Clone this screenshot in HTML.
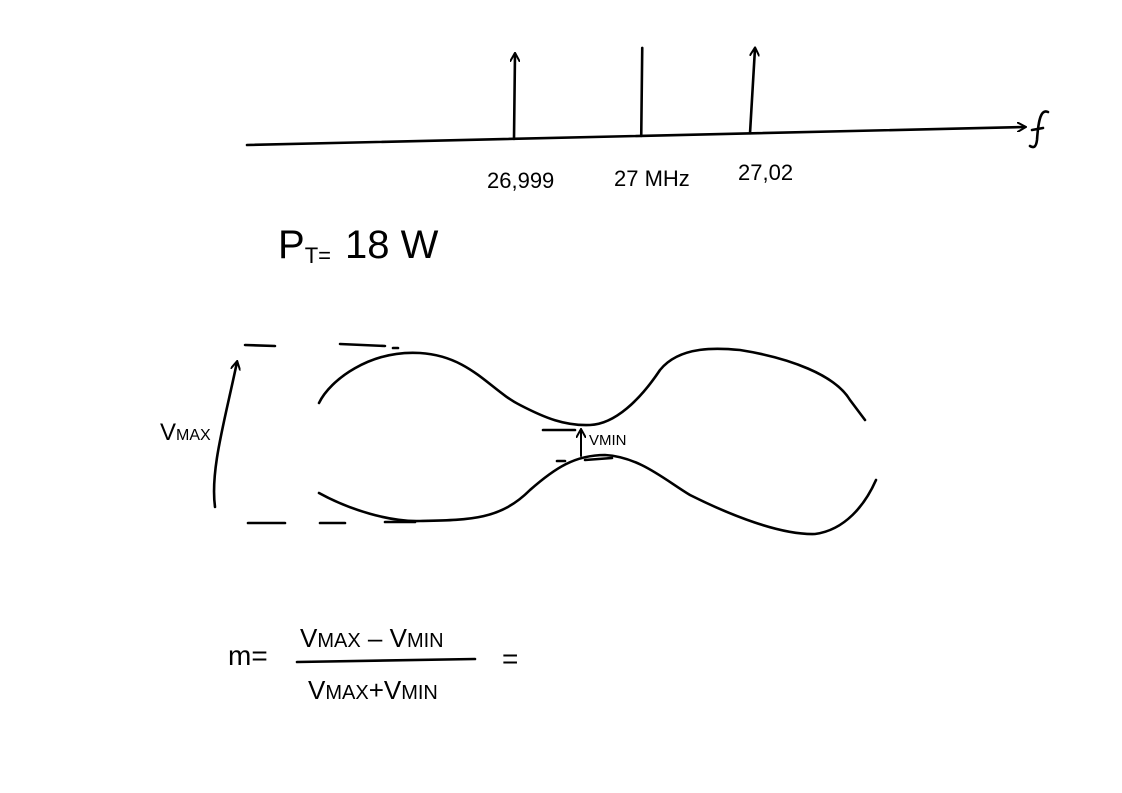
<!DOCTYPE html>
<html><head><meta charset="utf-8"><style>
html,body{margin:0;padding:0;background:#fff;}
svg{display:block;}
text{font-family:"Liberation Sans",sans-serif;fill:#000;}
</style></head>
<body>
<svg id="s" width="1122" height="793" viewBox="0 0 1122 793">
<defs>
<marker id="ah" markerWidth="10" markerHeight="10" refX="8" refY="5" orient="auto" markerUnits="userSpaceOnUse">
<path d="M0,0 L9,5 L0,10" fill="none" stroke="#000" stroke-width="2"/>
</marker>
</defs>
<g fill="none" stroke="#000" stroke-width="2.6" stroke-linecap="round" stroke-linejoin="round">
<path d="M247,145 L1025,127" marker-end="url(#ah)"/>
<g id="lines"></g>
<path d="M319,403 C330,380 370,350 420,353 C470,356 490,390 520,405 C545,418 565,426 590,425 C615,424 640,400 660,370 C680,345 720,348 740,350 C790,358 835,375 850,400 L865,420"/>
<path d="M319,493 C350,510 390,522 420,521 C470,520 500,520 530,490 C555,468 575,455 605,455 C640,457 665,480 690,495 C730,515 780,535 815,534 C845,530 865,505 876,480"/>
<path d="M245,345 L275,346 M340,344 L385,346 M393,348 L398,348"/>
<path d="M248,523 L285,523 M320,523 L345,523 M385,522 L415,522"/>
<path d="M215,507 C210,470 225,420 237,362" marker-end="url(#ah)"/>
<path d="M543,430 L575,430 M557,461 L565,461 M585,460 L612,458"/>
<path d="M581,456 L581,430" marker-end="url(#ah)" stroke-width="2"/>
<path d="M297,662 L475,659"/>
<path d="M1048,112 C1040,108 1038,125 1037,140 C1036,148 1033,148 1030,146 M1032,130 L1043,128"/>
</g>
<text x="487" y="188" font-size="22">26,999</text>
<text x="614" y="186" font-size="22">27 MHz</text>
<text x="738" y="180" font-size="22">27,02</text>
<text x="278" y="258" font-size="40">P<tspan font-size="22" dy="5">T=</tspan><tspan dy="-5" dx="14">18 W</tspan></text>
<text x="160" y="440" font-size="24">V<tspan font-size="16">MAX</tspan></text>
<text x="589" y="445" font-size="15">VMIN</text>
<text x="228" y="665" font-size="28">m=</text>
<text x="300" y="647" font-size="26">V<tspan font-size="20">MAX</tspan> – V<tspan font-size="20">MIN</tspan></text>
<text x="308" y="699" font-size="26">V<tspan font-size="20">MAX</tspan>+V<tspan font-size="20">MIN</tspan></text>
<text x="502" y="668" font-size="28">=</text>
</svg>
<script>
const freqs = [26.999, 27.0, 27.02];
const amps = [85, 88, 85];
const arrowed = [true, false, true];
function xOf(f){ return 514 + (f - 26.999) / (27.02 - 26.999) * (750 - 514) + (f===27.0 ? 116 : 0); }
function yBase(x){ return 145 - (x - 247) / (1025 - 247) * 18; }
const g = document.getElementById('lines');
freqs.forEach((f, i) => {
  const x = xOf(f), y0 = yBase(x);
  const p = document.createElementNS('http://www.w3.org/2000/svg', 'path');
  p.setAttribute('d', 'M' + x + ',' + y0 + ' L' + (x + (i===2?5:1)) + ',' + (y0 - amps[i]));
  if (arrowed[i]) p.setAttribute('marker-end', 'url(#ah)');
  
  
  g.appendChild(p);
});
</script>
</body></html>
